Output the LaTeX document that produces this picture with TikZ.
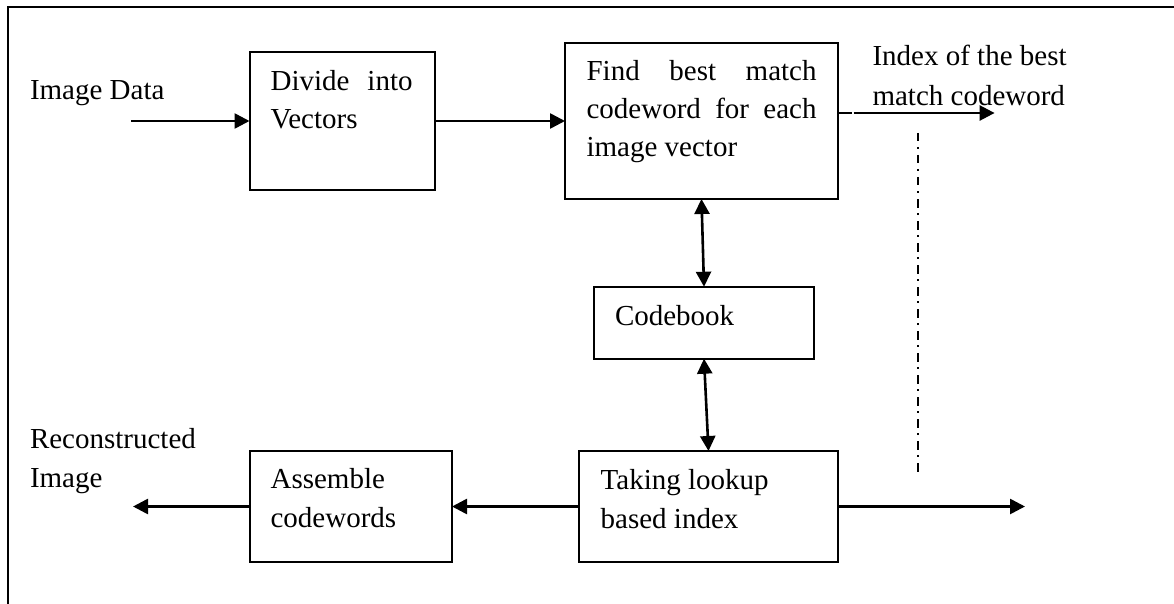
\documentclass[tikz,border=0pt]{standalone}
\usepackage{fontspec}
\setmainfont{Liberation Serif}
\usetikzlibrary{arrows.meta}
\begin{document}
\begin{tikzpicture}[x=1pt,y=-1pt,
  box/.style={draw,line width=2pt,inner sep=0pt,outer sep=0pt,rectangle},
  txt/.style={anchor=base west,inner sep=0pt,outer sep=0pt,font=\fontsize{29}{35}\selectfont},
  conn/.style={line width=2.6pt},
  arr/.style={conn,-{Triangle[length=15pt,width=15pt]}},
  dbl/.style={conn,{Triangle[length=15pt,width=15pt]}-{Triangle[length=15pt,width=15pt]}},
  dashdot/.style={line width=2pt,dash pattern=on 8.5pt off 5.5pt on 2pt off 6pt}]
\useasboundingbox (0,0) rectangle (1174,604);
% frame
\coordinate (fr1) at (1174,6.7);
\coordinate (fr2) at (7.7,6.7);
\coordinate (fr3) at (7.7,604);
\draw[line width=2pt] (fr1) -- (fr2) -- (fr3);
% boxes
\node[box,minimum width=185pt,minimum height=138pt] (divide) at (342,121) {};
\node[box,minimum width=273pt,minimum height=156pt] (find) at (701.5,121) {};
\node[box,minimum width=220pt,minimum height=72pt] (codebook) at (704,322.7) {};
\node[box,minimum width=259pt,minimum height=111pt] (taking) at (708.5,506.5) {};
\node[box,minimum width=202.5pt,minimum height=111pt] (assemble) at (350.75,506.5) {};
% texts
\node[txt] (t1) at (30,100) {Image Data};
\node[txt] (t2) at (270.6,91) {\makebox[142pt][s]{Divide into}};
\node[txt] (t3) at (270.6,129) {Vectors};
\node[txt] (t4) at (586.6,81) {\makebox[230pt][s]{Find best match}};
\node[txt] (t5) at (586.6,119) {\makebox[230pt][s]{codeword for each}};
\node[txt] (t6) at (586.6,157) {image vector};
\node[txt] (t7) at (872.5,66) {Index of the best};
\node[txt] (t8) at (872.5,106) {match codeword};
\node[txt] (t9) at (615,325) {Codebook};
\node[txt] (t10) at (600.7,489) {Taking lookup};
\node[txt] (t11) at (600.7,528) {based index};
\node[txt] (t12) at (270.6,488) {Assemble};
\node[txt] (t13) at (270.6,527) {codewords};
\node[txt] (t14) at (30,448) {Reconstructed};
\node[txt] (t15) at (30,487) {Image};
% connectors
\coordinate (imgin) at (131,121);
\draw[arr] (imgin) -- (divide.west);
\draw[arr] (divide.east) -- (find.west);
\coordinate (idxtip) at (994.6,113);
\coordinate (fo) at (find.east |- idxtip);
\draw[conn] (fo) -- ([xshift=13.5pt]fo);
\draw[arr] ([xshift=15.5pt]fo) -- (idxtip);
\draw[dbl] (find.south) -- (codebook.north);
\draw[dbl] (codebook.south) -- (taking.north);
\coordinate (outtip) at (1025,506.5);
\draw[arr] (taking.east) -- (outtip);
\draw[arr] (taking.west) -- (assemble.east);
\coordinate (recout) at (133,506.5);
\draw[arr] (assemble.west) -- (recout);
\coordinate (dd1) at (918,133);
\coordinate (dd2) at (918,474);
\draw[dashdot] (dd1) -- (dd2);
\end{tikzpicture}
\end{document}
